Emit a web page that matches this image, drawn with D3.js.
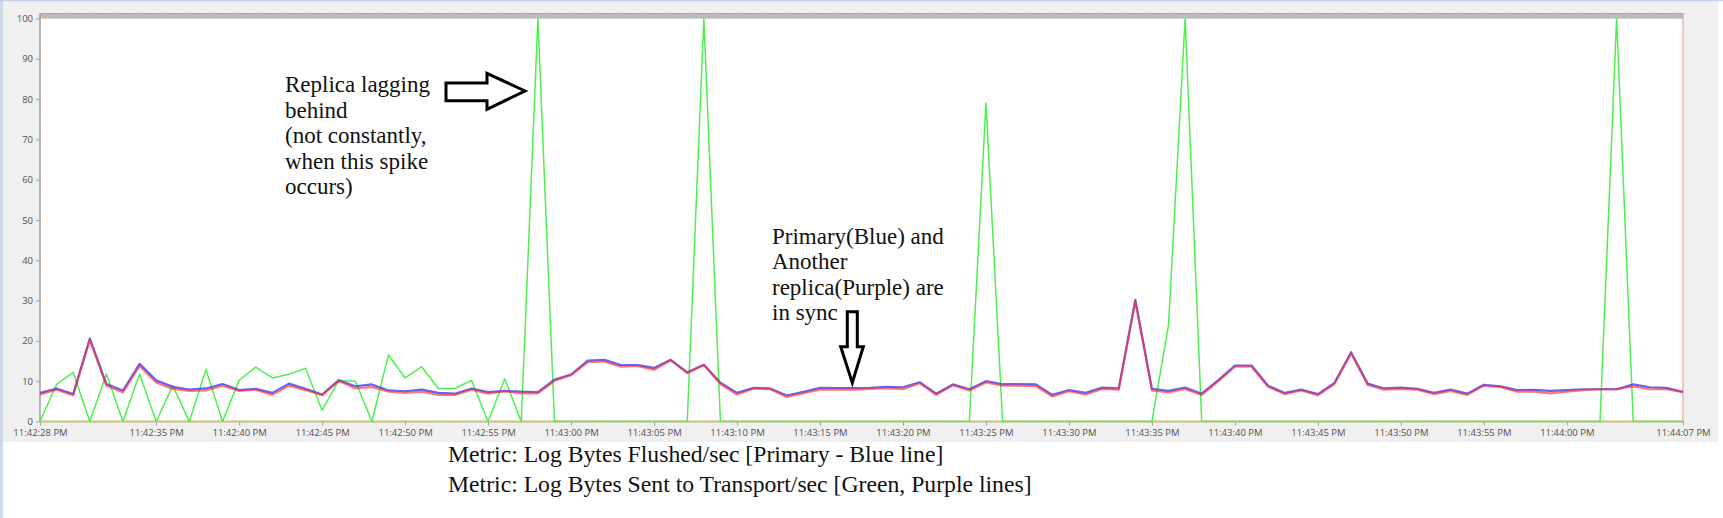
<!DOCTYPE html>
<html>
<head>
<meta charset="utf-8">
<script src="https://cdn.jsdelivr.net/npm/d3@7"></script>
<style>
  html, body { margin: 0; padding: 0; background: #ffffff; }
  svg { display: block; }
</style>
</head>
<body>
<svg id="chart" width="1723" height="518"></svg>
<script>
// ---------- DATA ----------
const startTime = "11:42:28 PM";
const endTime = "11:44:07 PM";
const sampleSeconds = 1;

const primaryBlue = [
  7.1, 8.2, 6.8, 20.6, 9.3, 7.7, 14.3, 10.2, 8.6, 7.9,
  8.2, 9.3, 7.8, 8.1, 7.1, 9.4, 8.1, 6.7, 10.25, 8.75,
  9.2, 7.7, 7.5, 7.9, 7.1, 6.9, 8.2, 7.3, 7.6, 7.4,
  7.3, 10.4, 11.65, 15.1, 15.3, 14.0, 14.0, 13.3, 15.3, 12.2,
  14.1, 9.6, 7.1, 8.35, 8.2, 6.45, 7.35, 8.35, 8.3, 8.3,
  8.35, 8.6, 8.5, 9.75, 6.9, 9.2, 8.0, 10.0, 9.25, 9.25,
  9.2, 6.6, 7.8, 7.1, 8.4, 8.2, 30.2, 8.1, 7.6, 8.4,
  6.9, 10.25, 13.9, 13.9, 8.9, 7.1, 7.9, 6.8, 9.6, 17.2,
  9.4, 8.2, 8.4, 8.1, 7.1, 7.9, 6.9, 9.1, 8.7, 7.8,
  7.85, 7.6, 7.8, 8.0, 8.0, 8.0, 9.2, 8.5, 8.35, 7.35
];

const replicaPurple = [
  6.7, 7.9, 6.5, 20.3, 8.9, 7.2, 13.8, 9.7, 8.1, 7.6,
  7.7, 8.9, 7.6, 7.9, 6.6, 8.9, 7.8, 6.5, 10.1, 8.2,
  8.6, 7.4, 7.1, 7.4, 6.6, 6.6, 7.9, 6.9, 7.5, 7.0,
  7.0, 10.1, 11.5, 14.7, 14.9, 13.6, 13.8, 12.8, 15.2, 12.0,
  14.0, 9.3, 6.7, 8.2, 8.0, 6.1, 7.0, 7.9, 7.9, 7.9,
  8.1, 8.3, 8.0, 9.5, 6.6, 9.0, 7.7, 9.7, 8.9, 8.9,
  8.8, 6.2, 7.5, 6.7, 8.1, 7.9, 29.8, 7.7, 7.2, 8.1,
  6.6, 10.0, 13.6, 13.6, 8.6, 6.8, 7.7, 6.5, 9.3, 16.9,
  9.1, 7.9, 8.1, 7.9, 6.8, 7.6, 6.6, 8.9, 8.6, 7.4,
  7.4, 7.0, 7.4, 7.8, 8.0, 8.0, 8.7, 8.0, 8.0, 7.3
];

const replicaGreen = [
  0, 9.2, 12.2, 0, 11.8, 0, 11.8, 0, 8.9, 0,
  12.9, 0, 10.2, 13.5, 10.8, 11.7, 13.2, 2.75, 10.2, 10.0,
  0, 16.5, 10.8, 13.6, 8.2, 8.2, 10.2, 0, 10.6, 0,
  100, 0, 0, 0, 0, 0, 0, 0, 0, 0,
  100, 0, 0, 0, 0, 0, 0, 0, 0, 0,
  0, 0, 0, 0, 0, 0, 0, 79, 0, 0,
  0, 0, 0, 0, 0, 0, 0, 0, 24, 100,
  0, 0, 0, 0, 0, 0, 0, 0, 0, 0,
  0, 0, 0, 0, 0, 0, 0, 0, 0, 0,
  0, 0, 0, 0, 0, 100, 0, 0, 0, 0
];

const yTicks = [0, 10, 20, 30, 40, 50, 60, 70, 80, 90, 100];
const xTickLabels = [
  "11:42:28 PM", "11:42:35 PM", "11:42:40 PM", "11:42:45 PM", "11:42:50 PM",
  "11:42:55 PM", "11:43:00 PM", "11:43:05 PM", "11:43:10 PM", "11:43:15 PM",
  "11:43:20 PM", "11:43:25 PM", "11:43:30 PM", "11:43:35 PM", "11:43:40 PM",
  "11:43:45 PM", "11:43:50 PM", "11:43:55 PM", "11:44:00 PM", "11:44:07 PM"
];

const noteLeft = ["Replica lagging", "behind", "(not constantly,", "when this spike", "occurs)"];
const noteRight = ["Primary(Blue) and", "Another", "replica(Purple) are", "in sync"];
const footer = [
  "Metric: Log Bytes Flushed/sec [Primary - Blue line]",
  "Metric: Log Bytes Sent to Transport/sec [Green, Purple lines]"
];

// ---------- LAYOUT ----------
const W = 1723, H = 518;
const plot = { left: 40, right: 1683, top: 18.5, bottom: 421.5 };

const svg = d3.select("#chart");
const parse = d3.timeParse("%I:%M:%S %p");
const t0 = parse(startTime), t1 = parse(endTime);
const times = primaryBlue.map((_, i) => d3.timeSecond.offset(t0, i * sampleSeconds));

const x = d3.scaleTime().domain([t0, t1]).range([plot.left, plot.right]);
const y = d3.scaleLinear().domain([0, 100]).range([plot.bottom, plot.top]);

// window background
svg.append("rect").attr("x", 0).attr("y", 0).attr("width", W).attr("height", H).attr("fill", "#ffffff");
svg.append("rect").attr("x", 3).attr("y", 1).attr("width", 1715).attr("height", 441).attr("fill", "#f0f0f0");
svg.append("rect").attr("x", 0).attr("y", 0).attr("width", 3).attr("height", H).attr("fill", "#cfd8e8");
svg.append("rect").attr("x", 0).attr("y", 0).attr("width", W).attr("height", 1.2).attr("fill", "#c6d2e6");

// hatched band at the top
const defs = svg.append("defs");
const pat = defs.append("pattern").attr("id", "hatch").attr("patternUnits", "userSpaceOnUse")
  .attr("width", 3).attr("height", 3);
pat.append("rect").attr("width", 3).attr("height", 3).attr("fill", "#c8c8c8");
pat.append("path").attr("d", "M0,3 L3,0").attr("stroke", "#9a9a9a").attr("stroke-width", 0.8);
svg.append("rect").attr("x", plot.left).attr("y", 13.5).attr("width", plot.right - plot.left).attr("height", plot.top - 13.5)
  .attr("fill", "url(#hatch)").attr("stroke", "#9a9a9a").attr("stroke-width", 0.8);

// plot area
svg.append("rect").attr("x", plot.left).attr("y", plot.top).attr("width", plot.right - plot.left)
  .attr("height", plot.bottom - plot.top).attr("fill", "#ffffff");

defs.append("clipPath").attr("id", "clip").append("rect")
  .attr("x", plot.left).attr("y", 13).attr("width", plot.right - plot.left).attr("height", plot.bottom - 13 + 1);

// y axis
const yAxis = d3.axisLeft(y).tickValues(yTicks).tickSize(4).tickPadding(3).tickFormat(d3.format("d"));
const gy = svg.append("g").attr("transform", `translate(${plot.left},0)`).call(yAxis);
gy.select(".domain").attr("stroke", "#a0a0a0").attr("stroke-width", 1.5).attr("d", `M0,${13.5}V${plot.bottom}`);
gy.selectAll(".tick line").attr("stroke", "#a0a0a0");
gy.selectAll(".tick text").attr("fill", "#505050").style("font-family", "'Open Sans', sans-serif").style("font-size", "9.5px");

// x axis
const xTickDates = xTickLabels.map(parse);
const xAxis = d3.axisBottom(x).tickValues(xTickDates).tickSize(4).tickPadding(4)
  .tickFormat(d => xTickLabels[xTickDates.findIndex(v => +v === +d)]);
const gx = svg.append("g").attr("transform", `translate(0,${plot.bottom})`).call(xAxis);
gx.select(".domain").attr("stroke", "none");
gx.selectAll(".tick line").attr("stroke", "#a0a0a0");
gx.selectAll(".tick text").attr("fill", "#505050").style("font-family", "'Open Sans', sans-serif").style("font-size", "9.5px");

// baseline (olive) under the series
svg.append("line").attr("x1", plot.left).attr("x2", plot.right).attr("y1", y(0)).attr("y2", y(0))
  .attr("stroke", "#c8c080").attr("stroke-width", 2);

// right edge marker
svg.append("line").attr("x1", plot.right).attr("x2", plot.right).attr("y1", plot.top).attr("y2", plot.bottom)
  .attr("stroke", "#ff9c9c").attr("stroke-width", 1.2);

const line = d3.line().x((d, i) => x(times[i])).y(d => y(d));
const series = svg.append("g").attr("clip-path", "url(#clip)");

series.append("path").datum(replicaGreen).attr("d", line)
  .attr("fill", "none").attr("stroke", "#4ef04e").attr("stroke-width", 1.5).attr("stroke-linejoin", "round");
series.append("path").datum(primaryBlue).attr("d", line)
  .attr("fill", "none").attr("stroke", "#3c3cff").attr("stroke-opacity", 0.8).attr("stroke-width", 2.2).attr("stroke-linejoin", "round");
series.append("path").datum(replicaPurple).attr("d", line)
  .attr("fill", "none").attr("stroke", "#ff3030").attr("stroke-opacity", 0.65).attr("stroke-width", 2.2).attr("stroke-linejoin", "round");

// ---------- ANNOTATIONS ----------
const serif = "'Liberation Serif', 'Times New Roman', serif";
const tl = svg.append("text").attr("font-family", serif).attr("font-size", 23).attr("fill", "#111");
noteLeft.forEach((s, i) => tl.append("tspan").attr("x", 285).attr("y", 92 + i * 25.5).text(s));

const tr = svg.append("text").attr("font-family", serif).attr("font-size", 23).attr("fill", "#111");
noteRight.forEach((s, i) => tr.append("tspan").attr("x", 772).attr("y", 244 + i * 25.3).text(s));

// right-pointing arrow
svg.append("path")
  .attr("d", "M446,83 L487,83 L487,73.3 L525,91 L487,109.3 L487,100.7 L446,100.7 Z")
  .attr("fill", "#ffffff").attr("stroke", "#000").attr("stroke-width", 3).attr("stroke-linejoin", "miter");
// down-pointing arrow
svg.append("path")
  .attr("d", "M847.3,311.7 L857.3,311.7 L857.3,346.7 L863.3,346.7 L852.3,382.7 L840.7,346.7 L847.3,346.7 Z")
  .attr("fill", "#ffffff").attr("stroke", "#000").attr("stroke-width", 3).attr("stroke-linejoin", "miter");

// footer text
const ft = svg.append("text").attr("font-family", serif).attr("font-size", 23.7).attr("fill", "#111");
footer.forEach((s, i) => ft.append("tspan").attr("x", 448).attr("y", 462 + i * 30).text(s));
</script>
</body>
</html>
